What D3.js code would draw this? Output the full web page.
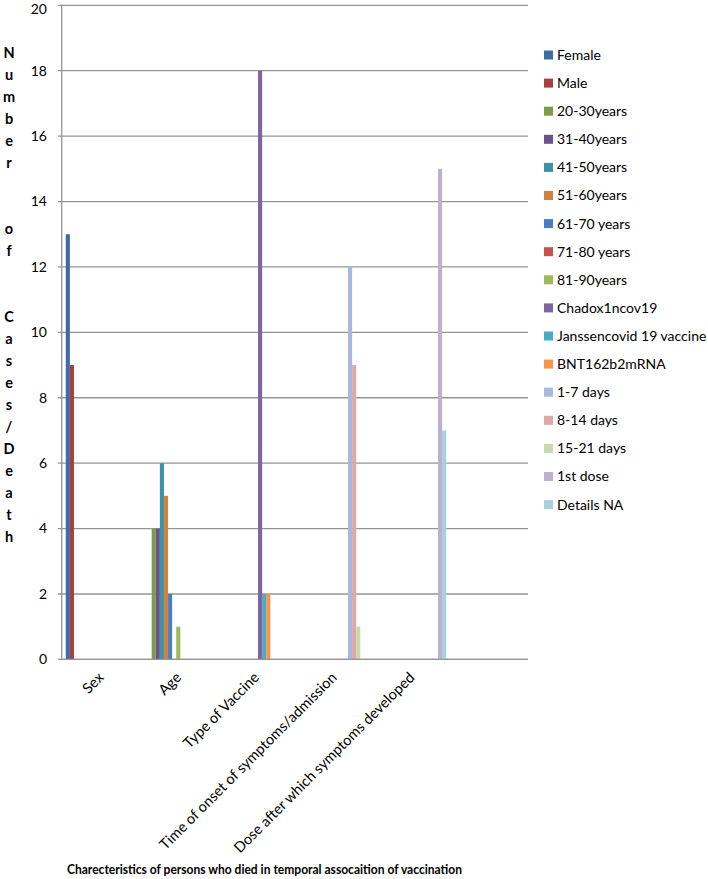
<!DOCTYPE html>
<html><head><meta charset="utf-8">
<script src="https://cdn.jsdelivr.net/npm/d3@7"></script>
<style>body{margin:0;background:#fff}svg{display:block}</style>
</head><body>
<svg id="chart" width="708" height="879"></svg>
<script>
const categories = ["Sex","Age","Type of Vaccine","Time of onset of symptoms/admission","Dose after which symptoms developed",""];
const seriesNames = ["Female","Male","20-30years","31-40years","41-50years","51-60years","61-70 years","71-80 years","81-90years","Chadox1ncov19","Janssencovid 19 vaccine","BNT162b2mRNA","1-7 days","8-14 days","15-21 days","1st dose","Details NA"];
const seriesCategory = [0,0,1,1,1,1,1,1,1,2,2,2,3,3,3,4,4];
const seriesValues = [13,9,4,4,6,5,2,0,1,18,2,2,12,9,1,15,7];
const seriesColors = ["#3D6BA6","#A6413E","#7F9B49","#6A528B","#3C92A8","#D3803A","#4A7EC4","#C8504D","#9BBB59","#8064A2","#47ACC6","#F79646","#A7B9DD","#DDA7A6","#C9DAAA","#BCB1CF","#A6D1DF"];
const yTicks = [0,2,4,6,8,10,12,14,16,18,20];
const yTitle = "Number  of  Cases/Death";
const xTitle = "Charecteristics of persons who died in temporal assocaition of vaccination";

const svg = d3.select("#chart");
const L = 61.7, R = 528, T = 5.3, B = 659.4;
const font = "Lato, 'Open Sans', sans-serif";

const y = d3.scaleLinear().domain([0,20]).range([B,T]);
const x0 = d3.scaleBand().domain(d3.range(categories.length)).range([L,R]).padding(0);
const x1 = d3.scaleBand().domain(seriesNames).range([0,x0.bandwidth()]).paddingInner(0).paddingOuter(1);

// gridlines
svg.append("g").selectAll("line").data(yTicks).join("line")
  .attr("x1",L-4).attr("x2",R).attr("y1",d=>y(d)).attr("y2",d=>y(d))
  .attr("stroke","#959595").attr("stroke-width",1.3);
// left axis line
svg.append("line").attr("x1",L).attr("x2",L).attr("y1",T).attr("y2",B)
  .attr("stroke","#959595").attr("stroke-width",1.3);

// y tick labels
svg.append("g").selectAll("text").data(yTicks).join("text")
  .attr("x",47).attr("y",d=>Math.max(y(d),9)).attr("dy","0.35em")
  .attr("text-anchor","end").attr("font-family",font).attr("font-size",14)
  .attr("fill","#000").text(d=>d);

// bars
const bars = seriesNames.map((n,i)=>({name:n,cat:seriesCategory[i],value:seriesValues[i],color:seriesColors[i]}));
svg.append("g").selectAll("rect").data(bars).join("rect")
  .attr("x",d=>x0(d.cat)+x1(d.name))
  .attr("width",x1.bandwidth())
  .attr("y",d=>y(d.value))
  .attr("height",d=>B-y(d.value))
  .attr("fill",d=>d.color);

// redraw baseline on top
svg.append("line").attr("x1",L).attr("x2",R).attr("y1",B).attr("y2",B)
  .attr("stroke","#959595").attr("stroke-width",1.3);

// x labels
svg.append("g").selectAll("text").data(categories).join("text")
  .attr("transform",(d,i)=>`translate(${x0(i)+x0.bandwidth()/2+4},${B+19}) rotate(-45)`)
  .attr("text-anchor","end").attr("font-family",font).attr("font-size",14.6)
  .attr("fill","#000").text(d=>d);

// y title, stacked letters
const letters = yTitle.split("");
svg.append("g").selectAll("text").data(letters).join("text")
  .attr("x",9).attr("y",(d,i)=>53+i*22).attr("dy","0.35em")
  .attr("text-anchor","middle").attr("font-family",font).attr("font-weight","bold")
  .attr("font-size",14.5).attr("fill","#000").text(d=>d);

// x title
svg.append("text").attr("x",67).attr("y",874)
  .attr("font-family",font).attr("font-weight","bold").attr("font-size",12.5)
  .attr("textLength",395).attr("lengthAdjust","spacingAndGlyphs")
  .attr("fill","#000").text(xTitle);

// legend
const lg = svg.append("g").selectAll("g").data(bars).join("g")
  .attr("transform",(d,i)=>`translate(544,${55+i*28.1})`);
lg.append("rect").attr("x",0).attr("y",-4.5).attr("width",9).attr("height",9).attr("fill",d=>d.color);
lg.append("text").attr("x",13).attr("y",0).attr("dy","0.35em")
  .attr("font-family",font).attr("font-size",14).attr("fill","#000").text(d=>d.name);
</script>
</body></html>
